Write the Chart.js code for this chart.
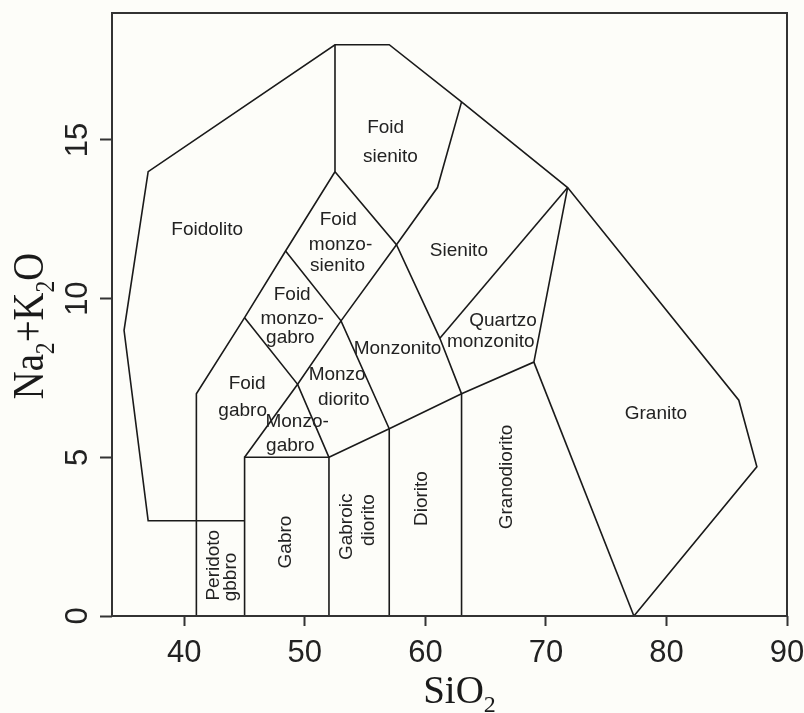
<!DOCTYPE html>
<html>
<head>
<meta charset="utf-8">
<script src="https://cdn.jsdelivr.net/npm/chart.js@4/dist/chart.umd.min.js"></script>
<style>
  html, body { margin: 0; padding: 0; background: #fdfdf9; overflow: hidden; }
  canvas { display: block; }
</style>
</head>
<body>
<canvas id="tas" width="804" height="713"></canvas>
<script>
// TAS diagram (plutonic) - field boundaries in SiO2 / Na2O+K2O units

const xTicks = [40, 50, 60, 70, 80, 90];
const yTicks = [0, 5, 10, 15];

// outer envelope, from the granite foot round to the peridotgabbro top
const outerBoundary = [[77.3, 0], [87.5, 4.7], [86, 6.8], [71.8, 13.5], [63, 16.2], [57, 18], [52.5, 18],
  [37, 14], [35, 9], [37, 3], [45, 3]];
const foidLine = [[41, 0], [41, 7], [45, 9.4], [48.4, 11.5], [52.5, 14], [52.5, 18]];
const gabbroBox = [[45, 0], [45, 5], [52, 5], [52, 0]];
const monzoRiseLine = [[45, 5], [49.4, 7.3], [53, 9.3], [57.6, 11.7], [61, 13.5], [63, 16.2]];
const foidGabbroTop = [[45, 9.4], [49.4, 7.3], [52, 5]];
const syeniteLeft = [[52.5, 14], [57.6, 11.7], [61.2, 8.75], [63, 7]];
const monzoDioriteTop = [[48.4, 11.5], [53, 9.3], [57, 5.9]];
const dioriteTop = [[52, 5], [57, 5.9], [63, 7], [69, 8], [71.8, 13.5]];
const syeniteBase = [[61.2, 8.75], [71.8, 13.5]];
const dioriteRight = [[57, 0], [57, 5.9]];
const granodioriteLeft = [[63, 0], [63, 7]];
const graniteLeft = [[69, 8], [77.3, 0]];

const boundaryLines = [outerBoundary, foidLine, gabbroBox, monzoRiseLine, foidGabbroTop, syeniteLeft,
  monzoDioriteTop, dioriteTop, syeniteBase, dioriteRight, granodioriteLeft, graniteLeft];

// field names: [text, SiO2, alkalis]
const fieldLabels = [
  ['Foidolito', 41.9, 12.16],
  ['Foid', 56.7, 15.38], ['sienito', 57.1, 14.46],
  ['Foid', 52.77, 12.48], ['monzo-', 52.96, 11.71], ['sienito', 52.71, 11.04],
  ['Foid', 48.95, 10.11], ['monzo-', 48.95, 9.38], ['gabro', 48.8, 8.77],
  ['Sienito', 62.78, 11.51],
  ['Quartzo', 66.44, 9.29], ['monzonito', 65.42, 8.64],
  ['Monzonito', 57.69, 8.41],
  ['Monzo', 52.68, 7.59], ['diorito', 53.23, 6.8],
  ['Foid', 45.21, 7.31], ['gabro', 44.84, 6.46],
  ['Monzo-', 49.36, 6.12], ['gabro', 48.8, 5.35],
  ['Granito', 79.12, 6.38]
];
// names written upwards inside the narrow columns
const columnLabels = [
  ['Peridoto', 42.43, 1.6], ['gbbro', 43.82, 1.23],
  ['Gabro', 48.39, 2.33],
  ['Gabroic', 53.51, 2.81], ['diorito', 55.31, 3.02],
  ['Diorito', 59.66, 3.7],
  ['Granodiorito', 66.74, 4.38]
];

const sans = '"Liberation Sans", Arial, sans-serif';
const serif = '"Liberation Serif", "Times New Roman", serif';
const ink = '#1a1a1a';

// text with subscripts, parts = [[str, isSub], ...], drawn centred on 0
function drawSubText(ctx, parts, size) {
  const subSize = Math.round(size * 0.62);
  let total = 0;
  parts.forEach(([s, sub]) => {
    ctx.font = (sub ? subSize : size) + 'px ' + serif;
    total += ctx.measureText(s).width;
  });
  let pos = -total / 2;
  parts.forEach(([s, sub]) => {
    ctx.font = (sub ? subSize : size) + 'px ' + serif;
    ctx.fillText(s, pos, sub ? size * 0.24 : 0);
    pos += ctx.measureText(s).width;
  });
}

const tasDecor = {
  id: 'tasDecor',
  beforeDraw(chart) {
    const ctx = chart.ctx;
    ctx.save();
    ctx.fillStyle = '#fdfdf9';
    ctx.fillRect(0, 0, chart.width, chart.height);
    ctx.restore();
  },
  afterDraw(chart) {
    const { ctx, chartArea: a, scales: { x, y } } = chart;
    ctx.save();

    // frame
    ctx.strokeStyle = '#333';
    ctx.lineWidth = 2;
    ctx.strokeRect(a.left, a.top, a.right - a.left, a.bottom - a.top);

    // y tick labels, rotated like the R original
    ctx.fillStyle = '#222';
    ctx.font = '31px ' + sans;
    ctx.textAlign = 'center';
    ctx.textBaseline = 'alphabetic';
    yTicks.forEach(v => {
      ctx.save();
      ctx.translate(a.left - 25, y.getPixelForValue(v));
      ctx.rotate(-Math.PI / 2);
      ctx.fillText(String(v), 0, 0);
      ctx.restore();
    });

    // field names
    ctx.fillStyle = '#222';
    ctx.font = '19px ' + sans;
    ctx.textBaseline = 'middle';
    fieldLabels.forEach(([t, sx, sy]) => {
      ctx.fillText(t, x.getPixelForValue(sx), y.getPixelForValue(sy));
    });
    columnLabels.forEach(([t, sx, sy]) => {
      ctx.save();
      ctx.translate(x.getPixelForValue(sx), y.getPixelForValue(sy));
      ctx.rotate(-Math.PI / 2);
      ctx.fillText(t, 0, 0);
      ctx.restore();
    });

    // axis titles
    ctx.fillStyle = '#1a1a1a';
    ctx.textAlign = 'left';
    ctx.textBaseline = 'alphabetic';
    ctx.save();
    ctx.translate((a.left + a.right) / 2 + 10, 703);
    drawSubText(ctx, [['SiO', 0], ['2', 1]], 39);
    ctx.restore();

    ctx.save();
    ctx.translate(43, a.top + 313);
    ctx.rotate(-Math.PI / 2);
    ctx.scale(0.88, 1);
    drawSubText(ctx, [['Na', 0], ['2', 1], ['+', 0], ['K', 0], ['2', 1], ['O', 0]], 44);
    ctx.restore();

    ctx.restore();
  }
};

new Chart(document.getElementById('tas'), {
  type: 'scatter',
  data: {
    datasets: boundaryLines.map(pts => ({
      data: pts.map(p => ({ x: p[0], y: p[1] })),
      showLine: true,
      borderColor: ink,
      borderWidth: 1.6,
      borderJoinStyle: 'miter',
      pointRadius: 0,
      fill: false,
      tension: 0
    }))
  },
  options: {
    responsive: false,
    animation: false,
    layout: { padding: { top: 13, right: 17, left: 0, bottom: 0 }, autoPadding: false },
    plugins: { legend: { display: false }, tooltip: { enabled: false } },
    scales: {
      x: {
        type: 'linear',
        min: 34,
        max: 90,
        afterBuildTicks: scale => { scale.ticks = xTicks.map(v => ({ value: v })); },
        afterFit: scale => {
          scale.height = 97;
          // the "90" label may hang over the right edge, as in the original
          scale.paddingLeft = 0;
          scale.paddingRight = 0;
        },
        border: { display: false },
        grid: { drawOnChartArea: false, drawTicks: true, tickLength: 10, tickColor: '#333', tickWidth: 2 },
        ticks: { color: '#222', font: { family: sans, size: 31 }, padding: 9, maxRotation: 0 }
      },
      y: {
        type: 'linear',
        min: 0,
        max: 19,
        afterBuildTicks: scale => { scale.ticks = yTicks.map(v => ({ value: v })); },
        afterFit: scale => {
          scale.width = 112;
          scale.paddingTop = 0;
          scale.paddingBottom = 0;
        },
        border: { display: false },
        grid: { drawOnChartArea: false, drawTicks: true, tickLength: 12, tickColor: '#333', tickWidth: 2 },
        ticks: { display: false }
      }
    }
  },
  plugins: [tasDecor]
});
</script>
</body>
</html>
